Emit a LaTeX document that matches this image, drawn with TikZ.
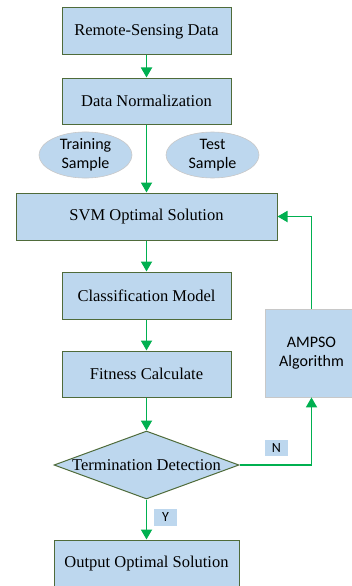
\documentclass[tikz,border=0pt]{standalone}
\usepackage{fontspec}
\setmainfont{Liberation Serif}
\setsansfont{Carlito}
\usetikzlibrary{arrows.meta,shapes.geometric}
\definecolor{boxfill}{HTML}{BDD7EE}
\definecolor{boxline}{HTML}{4F6B3A}
\definecolor{flow}{HTML}{00B050}
\definecolor{softline}{HTML}{C8C8C8}
\tikzset{
  stepbox/.style={draw=boxline, line width=1pt, fill=boxfill, rectangle,
    minimum width=169pt, minimum height=47pt, inner sep=0pt,
    font=\fontsize{16.5}{19}\selectfont},
  samplebox/.style={draw=softline, line width=0.6pt, fill=boxfill, ellipse,
    minimum width=93pt, minimum height=46pt, inner sep=0pt, align=center,
    font=\sffamily\fontsize{16}{19}\selectfont},
  algobox/.style={draw=softline, line width=0.8pt, fill=boxfill, rectangle,
    minimum width=93pt, minimum height=88pt, inner sep=0pt, align=center,
    font=\sffamily\fontsize{16}{19}\selectfont},
  decision/.style={draw=boxline, line width=1pt, fill=boxfill, diamond,
    aspect=2.72, minimum width=185pt, minimum height=68pt, inner sep=0pt,
    font=\fontsize{16.5}{19}\selectfont},
  tag/.style={fill=boxfill, rectangle, minimum width=23pt, minimum height=16pt,
    inner sep=0pt, font=\sffamily\fontsize{14}{16}\selectfont},
  flowline/.style={draw=flow, line width=1.8pt,
    -{Triangle[width=11pt,length=10pt]}},
}
\begin{document}
\begin{tikzpicture}[x=1pt,y=-1pt]
\useasboundingbox (0,0) rectangle (351,586);

\node[stepbox] (raw) at (146.5,31.5) {Remote-Sensing Data};
\node[stepbox, minimum height=46pt] (norm) at (146.5,101) {Data Normalization};
\node[samplebox] (train) at (85.5,155) {Training\\Sample};
\node[samplebox] (test) at (212.5,155) {Test\\Sample};
\node[stepbox, minimum width=261pt] (svm) at (146.5,216.5) {SVM Optimal Solution};
\node[stepbox] (model) at (146.5,295.5) {Classification Model};
\node[stepbox, minimum height=46pt] (fit) at (146.5,374) {Fitness Calculate};
\node[decision] (term) at (146.5,465) {Termination Detection};
\node[stepbox, minimum width=185pt] (out) at (146.5,563.5) {Output Optimal Solution};
\node[algobox] (pso) at (311.5,353) {AMPSO\\Algorithm};
\node[tag] (no) at (276.5,448) {N};
\node[tag, minimum height=17pt] (yes) at (165.5,517.5) {Y};

\draw[flowline] (raw.south) -- (norm.north);
\draw[flowline] (norm.south) -- (svm.north);
\draw[flowline] (svm.south) -- (model.north);
\draw[flowline] (model.south) -- (fit.north);
\draw[flowline] (fit.south) -- (term.north);
\draw[flowline] (term.south) -- (out.north);
\draw[flowline] (term.east) -| (pso.south);
\draw[flowline] (pso.north) |- (svm.east);
\end{tikzpicture}
\end{document}
